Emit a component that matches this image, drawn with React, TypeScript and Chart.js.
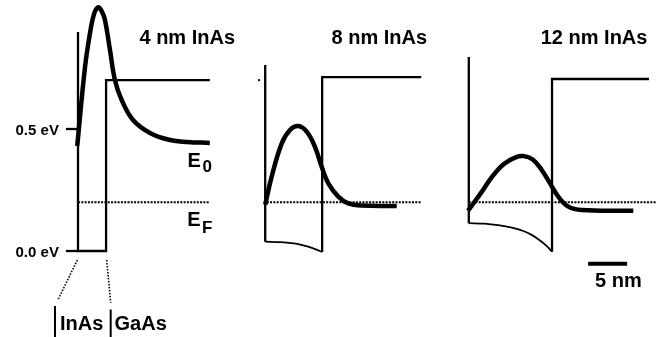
import React, { useEffect, useRef } from "react";
import { Chart, registerables } from "chart.js";

Chart.register(...registerables);

// ---------- data (x in nm relative to each panel's left InAs wall, y in eV) ----------
const panelTitles = ["4 nm InAs", "8 nm InAs", "12 nm InAs"];
const panelOffsets = [10, 34, 60.1]; // nm, where each panel's well starts

const tickValues = [0, 0.5];
const tickLabels = ["0.0 eV", "0.5 eV"];

const fermiLevel = 0.2;
const fermiStart = [0, 0.2, 0];
const fermiEnd = [16.9, 20.0, 24.0];

// Panel 1: 4 nm InAs
const band1 = [[0, 0.898], [0, 0], [3.6, 0], [3.6, 0.70], [16.9, 0.70]];
const wave1 = [
  [-0.1, 0.43], [0.9, 0.754], [1.54, 0.893], [2.05, 0.971], [2.6, 0.999], [3.08, 0.98],
  [3.46, 0.947], [4.1, 0.824], [4.74, 0.70], [5.6, 0.619], [7.05, 0.537], [9.23, 0.484],
  [11.8, 0.455], [14.0, 0.447], [16.9, 0.443],
];

// Panel 2: 8 nm InAs
const band2Wall = [[0, 0.762], [0, 0.038]];
const band2Bottom = [[0, 0.038], [2, 0.036], [3.4, 0.032], [4.5, 0.026], [5.5, 0.018], [6.5, 0.007], [7.3, -0.004]];
const band2Step = [[7.3, -0.004], [7.3, 0.713], [20.0, 0.713]];
const wave2 = [
  [0, 0.19], [0.83, 0.305], [2.12, 0.441], [3.18, 0.496], [4.24, 0.512], [5.32, 0.489],
  [6.38, 0.427], [7.24, 0.345], [8.09, 0.277], [9.37, 0.223], [10.65, 0.195], [12.37, 0.186],
  [16.86, 0.184],
];
const stray2 = [[-0.8, 0.70]];

// Panel 3: 12 nm InAs
const band3Wall = [[0, 0.795], [0, 0.114]];
const band3Bottom = [
  [0, 0.114], [2, 0.112], [4, 0.105], [5, 0.099], [6, 0.092], [7, 0.082], [8, 0.067],
  [9, 0.046], [10, 0.02], [10.67, -0.003],
];
const band3Step = [[10.67, -0.003], [10.67, 0.705], [23.1, 0.705]];
const wave3 = [
  [-0.1, 0.165], [1.5, 0.235], [3.0, 0.305], [4.5, 0.357], [6.0, 0.384], [7.0, 0.389],
  [8.2, 0.375], [9.35, 0.332], [10.41, 0.277], [11.47, 0.223], [12.76, 0.182], [14.47, 0.168],
  [21.09, 0.165],
];

// Annotations (absolute nm, eV)
const leaderLeft = [[9.91, -0.037], [7.47, -0.198]];
const leaderRight = [[13.68, -0.037], [14.19, -0.212]];
const layerBarLeft = [[7.05, -0.225], [7.05, -0.36]];
const layerBarRight = [[14.19, -0.24], [14.19, -0.36]];
const scaleBar = [[75.4, -0.052], [80.4, -0.052]];
const scaleBarLabel = "5 nm";

// ---------- layout ----------
const X_MIN = 0;
const X_MAX = 84.1;
const Y_MIN = -0.3525;
const Y_MAX = 1.0287;
const FONT = "'Liberation Sans', Arial, Helvetica, sans-serif";

type Label = { text: string; x: number; y: number; size: number; align?: CanvasTextAlign; base?: CanvasTextBaseline };

const titleX = [17.88, 42.5, 69.32];
const labels: Label[] = [
  ...panelTitles.map((t, i) => ({ text: t, x: titleX[i], y: 0.8504, size: 20 })),
  { text: "E", x: 24.05, y: 0.344, size: 20 },
  { text: "0", x: 25.95, y: 0.322, size: 17 },
  { text: "E", x: 24.0, y: 0.1025, size: 20 },
  { text: "F", x: 25.9, y: 0.0738, size: 17 },
  { text: "InAs", x: 7.69, y: -0.3238, size: 20 },
  { text: "GaAs", x: 14.68, y: -0.3238, size: 20 },
  { text: scaleBarLabel, x: 76.28, y: -0.1475, size: 20 },
];

const toXY = (pts: number[][], off = 0) => pts.map(([x, y]) => ({ x: x + off, y }));

const line = (data: { x: number; y: number }[], width: number, extra: Record<string, unknown> = {}) => ({
  data,
  showLine: true,
  borderColor: "#000",
  backgroundColor: "#000",
  borderWidth: width,
  pointRadius: 0,
  pointHoverRadius: 0,
  tension: 0,
  fill: false,
  ...extra,
});

const textPlugin = {
  id: "texts",
  afterDatasetsDraw(chart: Chart) {
    const { ctx, scales } = chart;
    const sx = scales.x;
    const sy = scales.y;
    ctx.save();
    ctx.fillStyle = "#000";
    for (const l of labels) {
      ctx.font = `bold ${l.size}px ${FONT}`;
      ctx.textAlign = l.align || "left";
      ctx.textBaseline = l.base || "alphabetic";
      ctx.fillText(l.text, sx.getPixelForValue(l.x), sy.getPixelForValue(l.y));
    }
    // tick labels
    ctx.font = `bold 15px ${FONT}`;
    ctx.textAlign = "right";
    ctx.textBaseline = "middle";
    tickValues.forEach((v, i) => {
      ctx.fillText(tickLabels[i], sx.getPixelForValue(panelOffsets[0] - 2.45), sy.getPixelForValue(v) + 2);
    });
    ctx.restore();
  },
};

export default function App() {
  const ref = useRef<HTMLCanvasElement | null>(null);

  useEffect(() => {
    if (!ref.current) return;
    const [o1, o2, o3] = panelOffsets;
    const dotted = { borderDash: [2, 1.3] };
    const datasets: any[] = [
      // panel 1
      line(toXY(band1, o1), 2.3),
      ...tickValues.map((v) => line([{ x: o1 - 1.55, y: v }, { x: o1, y: v }], 2.3)),
      // panel 2
      line(toXY(band2Wall, o2), 2.3),
      line(toXY(band2Bottom, o2), 1.8, { tension: 0.4 }),
      line(toXY(band2Step, o2), 2.3),
      { data: toXY(stray2, o2), pointRadius: 1.1, pointHoverRadius: 0, backgroundColor: "#000", borderWidth: 0, showLine: false },
      // panel 3
      line(toXY(band3Wall, o3), 2.3),
      line(toXY(band3Bottom, o3), 1.8, { tension: 0.4 }),
      line(toXY(band3Step, o3), 2.3),
      // Fermi levels
      ...panelOffsets.map((o, i) =>
        line([{ x: o + fermiStart[i], y: fermiLevel }, { x: o + fermiEnd[i], y: fermiLevel }], 2, dotted)
      ),
      // wavefunctions
      line(toXY(wave1, o1), 4.5, { tension: 0.4 }),
      line(toXY(wave2, o2), 4.5, { tension: 0.4 }),
      line(toXY(wave3, o3), 4.5, { tension: 0.4 }),
      // annotations
      line(toXY(leaderLeft), 1.6, { borderDash: [1.5, 1.5] }),
      line(toXY(leaderRight), 1.6, { borderDash: [1.5, 1.5] }),
      line(toXY(layerBarLeft), 2),
      line(toXY(layerBarRight), 2),
      line(toXY(scaleBar), 4),
    ];

    const chart = new Chart(ref.current, {
      type: "scatter",
      data: { datasets },
      options: {
        animation: false,
        responsive: false,
        maintainAspectRatio: false,
        devicePixelRatio: 1,
        events: [],
        layout: { padding: 0, autoPadding: false },
        plugins: { legend: { display: false }, tooltip: { enabled: false } },
        scales: {
          x: { type: "linear", min: X_MIN, max: X_MAX, display: false },
          y: { type: "linear", min: Y_MIN, max: Y_MAX, display: false },
        },
      },
      plugins: [textPlugin],
    });
    return () => chart.destroy();
  }, []);

  return (
    <div style={{ position: "fixed", left: 0, top: 0, width: 656, height: 337, background: "#fff" }}>
      <canvas ref={ref} width={656} height={337} style={{ width: 656, height: 337 }} />
    </div>
  );
}
